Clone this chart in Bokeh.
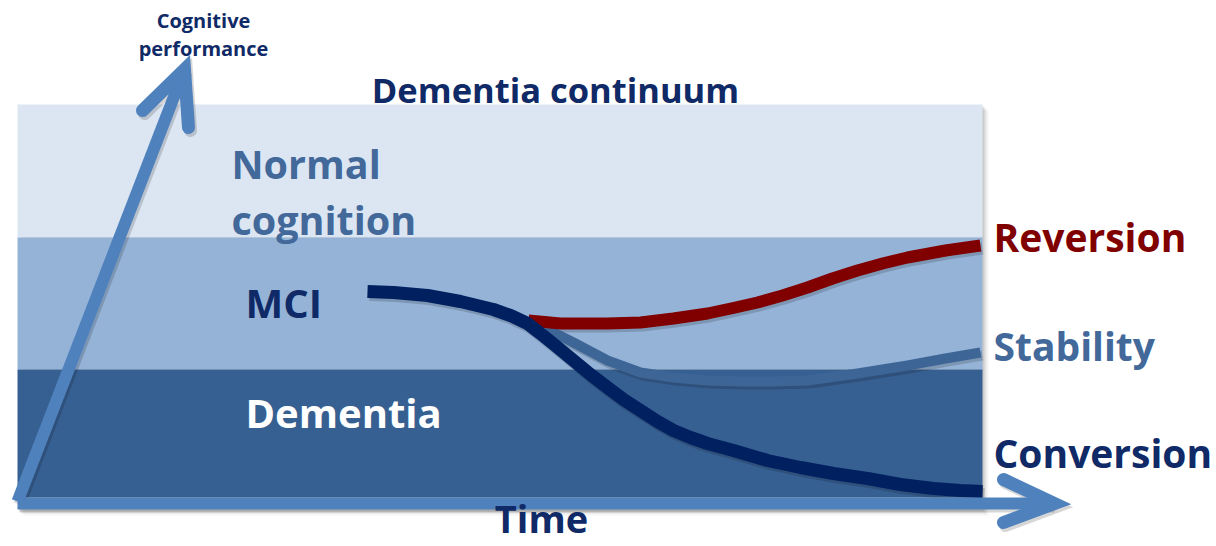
from bokeh.plotting import figure
from bokeh.models import Range1d, ColumnDataSource
from bokeh.core.properties import value
from bokeh.embed import file_html
from bokeh.resources import INLINE

# ---- data (diagram coordinates: x = time, y = screen-like position, down = lower performance)
band_names = ["Normal cognition", "MCI", "Dementia"]
band_top = [104, 237, 369]
band_bottom = [237, 369, 497]
band_left = 17
band_right = 982
band_colors = ["#DCE6F2", "#95B3D7", "#376092"]

conv_x = [367, 393, 427, 460, 493, 510, 527, 540, 556, 573, 590, 607, 623, 640, 657, 673, 690, 707,
          733, 767, 800, 833, 867, 900, 933, 960, 982]
conv_y = [291, 292, 295, 301, 309, 315, 323, 333, 346, 360, 374, 387, 399, 410, 421, 430, 437, 443,
          450, 460, 467, 473, 478, 484, 488, 490, 491]

stab_x = [545, 573, 607, 640, 673, 707, 740, 773, 807, 857, 907, 945, 980]
stab_y = [328, 342, 360, 372, 377, 380, 381, 381, 380, 373, 365, 358, 352]

rev_x = [528, 560, 607, 640, 673, 707, 735, 757, 782, 807, 832, 857, 882, 907, 945, 980]
rev_y = [320, 323, 323, 322, 318, 313, 307, 302, 295, 287, 278, 270, 263, 257, 250, 245]

# axes arrows
yaxis_x = [17, 184]
yaxis_y = [501, 69]
yhead_x = [142, 184, 188]
yhead_y = [110, 69, 127]
xaxis_x = [17, 1052]
xaxis_y = [503, 503]
xhead_x = [1003, 1054, 1003]
xhead_y = [479, 503, 522]

label_text = ["Cognitive", "performance", "Dementia continuum", "Normal", "cognition",
              "MCI", "Dementia", "Reversion", "Stability", "Conversion", "Time"]
label_x = [203, 203, 555, 231, 231, 245, 245, 993, 993, 993, 541]
label_y = [28, 56, 103, 179, 235, 318, 428, 252, 361, 468, 533]   # text baselines
label_align = ["center", "center", "center", "left", "left", "left", "left", "left", "left", "left", "center"]
label_size = [20, 20, 34.5, 39.5, 39.5, 40, 40, 39, 39, 39, 38]
label_color = ["#0F2A66", "#0F2A66", "#0F2A66", "#42699A", "#42699A", "#0F2A66", "#FFFFFF",
               "#800000", "#42699A", "#0F2A66", "#0F2A66"]

W, H = 1216, 546
p = figure(width=W, height=H, x_range=Range1d(0, W), y_range=Range1d(H, 0),
           output_backend="svg", toolbar_location=None, min_border=0)
p.axis.visible = False
p.grid.visible = False
p.outline_line_color = None
p.background_fill_color = "white"

# soft shadow under the panel
for i, a in enumerate([0.10, 0.07, 0.04]):
    off = 2 + 2 * i
    p.quad(left=band_left + off, right=band_right + off, top=band_top[0] + off,
           bottom=band_bottom[-1] + 12 + off, fill_color="black", fill_alpha=a, line_color=None)

p.quad(left=[band_left] * 3, right=[band_right] * 3, top=band_top, bottom=band_bottom,
       fill_color=band_colors, line_color=None)

# line shadows
for xs, ys, w in [(stab_x, stab_y, 10), (rev_x, rev_y, 12), (conv_x, conv_y, 13)]:
    p.line([x + 2 for x in xs], [y + 3 for y in ys], line_width=w, line_color="black",
           line_alpha=0.16, line_join="round")

p.line(stab_x, stab_y, line_width=10, line_color="#3D6697", line_join="round")
p.line(rev_x, rev_y, line_width=12, line_color="#800000", line_join="round")
p.line(conv_x, conv_y, line_width=13, line_color="#002060", line_join="round")

# axis arrows with shadow
for dx, dy, col, al in [(2, 3, "black", 0.16), (0, 0, "#4F81BD", 1.0)]:
    p.line([x + dx for x in xaxis_x], [y + dy for y in xaxis_y], line_width=12, line_color=col, line_alpha=al)
    p.line([x + dx for x in xhead_x], [y + dy for y in xhead_y], line_width=13, line_color=col,
           line_alpha=al, line_cap="round", line_join="miter")
    p.line([x + dx for x in yaxis_x], [y + dy for y in yaxis_y], line_width=12, line_color=col, line_alpha=al)
    p.line([x + dx for x in yhead_x], [y + dy for y in yhead_y], line_width=13, line_color=col,
           line_alpha=al, line_cap="round", line_join="miter")

# the renderer places alphabetic text ~0.4em low; compensate
draw_y = [y - 0.4 * s for y, s in zip(label_y, label_size)]
src = ColumnDataSource(dict(x=label_x, y=draw_y, text=label_text, align=label_align,
                            size=[f"{s}px" for s in label_size], color=label_color))
p.text(x="x", y="y", text="text", source=src, text_align="align", text_baseline="alphabetic",
       text_font=value("Open Sans"), text_font_style="bold", text_font_size="size",
       text_color="color")

open("out.html", "w").write(file_html(p, INLINE))
